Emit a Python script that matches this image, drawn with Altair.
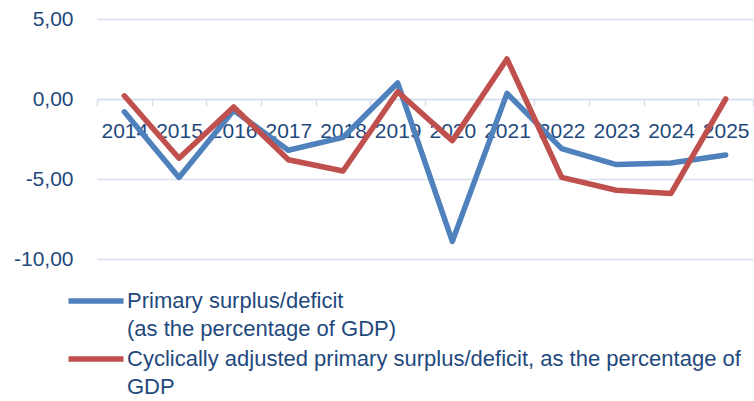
import altair as alt
import pandas as pd

years = ["2014", "2015", "2016", "2017", "2018", "2019", "2020", "2021", "2022", "2023", "2024", "2025"]
primary = [-0.8, -4.9, -0.7, -3.2, -2.4, 1.0, -8.9, 0.35, -3.1, -4.1, -4.0, -3.5]
cyclical = [0.2, -3.7, -0.5, -3.8, -4.5, 0.45, -2.6, 2.5, -4.9, -5.7, -5.9, 0.0]
series_names = [
    "Primary surplus/deficit|(as the percentage of GDP)",
    "Cyclically adjusted primary surplus/deficit, as the percentage of|GDP",
]
series_colors = ["#4F81BD", "#C0504D"]
y_ticks = [-10, -5, 0, 5]

rows = []
for name, vals in zip(series_names, [primary, cyclical]):
    for yr, v in zip(years, vals):
        rows.append({"year": yr, "value": v, "series": name})
df = pd.DataFrame(rows)

TEXT = "#1F497D"
GRID = "#D6E0EF"
FONT = "Liberation Sans"

chart = (
    alt.Chart(df)
    .mark_line(strokeWidth=5.5, strokeCap="round", strokeJoin="round")
    .encode(
        x=alt.X(
            "year:N",
            sort=years,
            title=None,
            scale=alt.Scale(paddingInner=0, paddingOuter=0),
            axis=alt.Axis(
                offset=-160,
                labelAngle=0,
                labelFont=FONT,
                labelFontSize=21,
                labelColor=TEXT,
                labelPadding=14,
                tickBand="extent",
                tickSize=7,
                tickColor=GRID,
                tickWidth=1.5,
                domainColor=GRID,
                domainWidth=1.5,
                grid=False,
            ),
        ),
        y=alt.Y(
            "value:Q",
            title=None,
            scale=alt.Scale(domain=[-10, 5], nice=False, zero=False),
            axis=alt.Axis(
                values=y_ticks,
                labelExpr="replace(replace(format(datum.value, '.2f'), '.', ','), '\u2212', '-')",
                labelFont=FONT,
                labelFontSize=21,
                labelColor=TEXT,
                labelPadding=24,
                domain=False,
                ticks=False,
                grid=True,
                gridColor=GRID,
                gridWidth=1.5,
            ),
        ),
        color=alt.Color(
            "series:N",
            sort=series_names,
            scale=alt.Scale(domain=series_names, range=series_colors),
            legend=alt.Legend(
                title=None,
                orient="none",
                legendX=-14,
                legendY=269,
                padding=0,
                labelExpr="split(datum.label, '|')",
                labelFont=FONT,
                labelFontSize=22,
                labelColor=TEXT,
                labelLimit=900,
                labelOffset=18,
                labelBaseline="middle",
                symbolType="M-2.75,0L2.75,0",
                symbolSize=400,
                symbolStrokeWidth=5.5,
                rowPadding=6,
            ),
        ),
    )
    .properties(
        width=656,
        height=240,
        padding={"left": 97, "top": 19, "right": 1, "bottom": 142},
        autosize=alt.AutoSizeParams(type="none"),
    )
    .configure(style={"guide-label": {"lineHeight": 28}})
    .configure_view(strokeWidth=0)
)

chart.save("out.html", embed_options={"renderer": "svg", "actions": False})
